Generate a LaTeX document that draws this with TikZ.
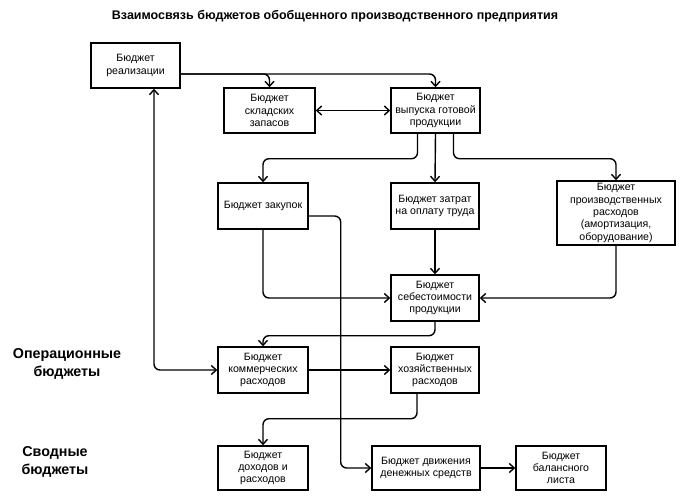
\documentclass[tikz,border=0pt]{standalone}
\usepackage{fontspec}
\setmainfont{Liberation Sans}
\usetikzlibrary{arrows.meta}
\tikzset{
  bx/.style={draw, line width=1.4pt, align=center, inner sep=0pt, font=\fontsize{10.6}{12.3}\selectfont},
  arr/.style={line width=1.4pt, rounded corners=6pt, -{Straight Barb[length=5pt,width=9pt,line width=1.4pt]}},
  dbl/.style={line width=1.4pt, rounded corners=6pt, {Straight Barb[length=5pt,width=9pt,line width=1.4pt]}-{Straight Barb[length=5pt,width=9pt,line width=1.4pt]}},
  lbl/.style={font=\bfseries\fontsize{14.3}{17.5}\selectfont, align=center}
}
\begin{document}
\begin{tikzpicture}[x=1pt,y=-1pt]
\useasboundingbox (0,0) rectangle (680,498);
\node[font=\bfseries\fontsize{12.5}{15}\selectfont] (title) at (335,16) {Взаимосвязь бюджетов обобщенного производственного предприятия};
\node[bx, minimum width=89pt, minimum height=45pt] (real) at (135.5,65.5) {Бюджет\\реализации};
\node[bx, minimum width=91pt, minimum height=45pt] (skl) at (269.5,110.5) {Бюджет\\складских\\запасов};
\node[bx, minimum width=89pt, minimum height=45pt] (vyp) at (435.5,110.5) {Бюджет\\выпуска готовой\\продукции};
\node[bx, minimum width=90pt, minimum height=46pt] (zak) at (263,206) {Бюджет закупок};
\node[bx, minimum width=88pt, minimum height=46pt] (zat) at (435,206) {Бюджет затрат\\на оплату труда};
\node[bx, minimum width=118pt, minimum height=64pt] (prz) at (616,213) {Бюджет\\производственных\\расходов\\(амортизация,\\оборудование)};
\node[bx, minimum width=88pt, minimum height=46pt] (seb) at (435,298) {Бюджет\\себестоимости\\продукции};
\node[bx, minimum width=90pt, minimum height=46pt] (kom) at (263,370) {Бюджет\\коммерческих\\расходов};
\node[bx, minimum width=88pt, minimum height=46pt] (hoz) at (435,370) {Бюджет\\хозяйственных\\расходов};
\node[bx, minimum width=90pt, minimum height=44pt] (doh) at (263,468) {Бюджет\\доходов и\\расходов};
\node[bx, minimum width=108pt, minimum height=44pt] (dv) at (426,468) {Бюджет движения\\денежных средств};
\node[bx, minimum width=90pt, minimum height=44pt] (bal) at (561,468) {Бюджет\\балансного\\листа};
\node[lbl] (op) at (67,364) {Операционные\\бюджеты};
\node[lbl] (sv) at (55,462) {Сводные\\бюджеты};
\draw[arr] ([yshift=-8.5pt]real.east) -| (skl.north);
\draw[arr] ([yshift=-8.5pt]real.east) -| (vyp.north);
\draw[dbl] (skl.east) -- (vyp.west);
\draw[arr] ([xshift=-18pt]vyp.south) -- ++(0,25) -| (zak.north);
\draw[arr] (vyp.south) -- (zat.north);
\draw[arr] ([xshift=18pt]vyp.south) -- ++(0,25) -| (prz.north);
\draw[arr] (zak.south) |- (seb.west);
\draw[arr] ([yshift=-10pt]zak.east) -- ++(32,0) |- (dv.west);
\draw[arr] (zat.south) -- (seb.north);
\draw[arr] (prz.south) |- (seb.east);
\draw[arr] (seb.south) -- ++(0,14) -| (kom.north);
\draw[arr] (kom.east) -- (hoz.west);
\draw[arr] ([xshift=-18pt]hoz.south) -- ++(0,25) -| (doh.north);
\draw[arr] (dv.east) -- (bal.west);
\draw[dbl] ([xshift=18.5pt]real.south) |- (kom.west);
\end{tikzpicture}
\end{document}
